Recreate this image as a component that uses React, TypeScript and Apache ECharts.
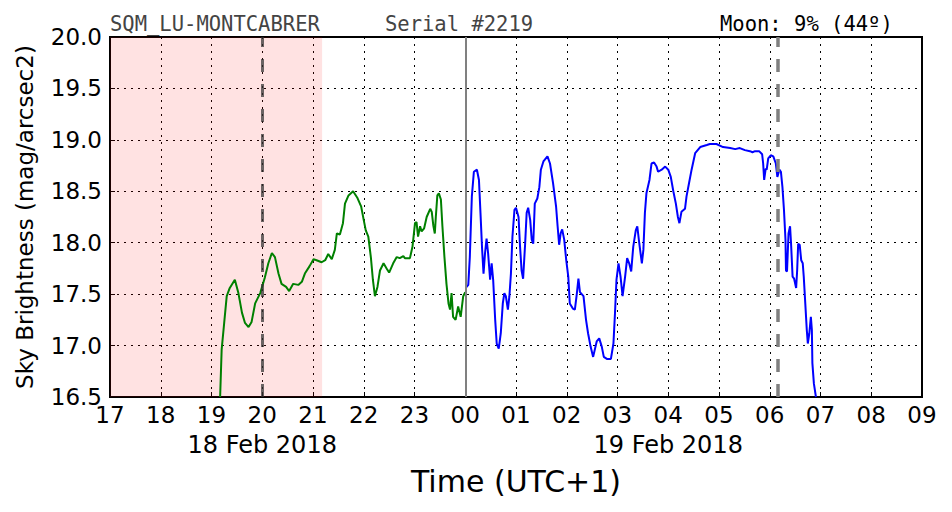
import React, { useEffect, useRef } from "react";
import * as echarts from "echarts";

const greenTimes = [19.17, 19.2, 19.25, 19.3, 19.36, 19.46, 19.53, 19.6, 19.66, 19.73, 19.79, 19.86, 19.96, 20.05, 20.12, 20.19, 20.25, 20.32, 20.38, 20.47, 20.53, 20.61, 20.71, 20.78, 20.84, 20.93, 21.01, 21.07, 21.17, 21.24, 21.3, 21.37, 21.43, 21.47, 21.53, 21.59, 21.63, 21.7, 21.79, 21.87, 21.95, 22.0, 22.04, 22.09, 22.14, 22.18, 22.22, 22.27, 22.32, 22.39, 22.45, 22.5, 22.58, 22.65, 22.71, 22.78, 22.81, 22.91, 22.96, 23.01, 23.04, 23.07, 23.11, 23.14, 23.19, 23.24, 23.31, 23.34, 23.37, 23.4, 23.42, 23.45, 23.48, 23.52, 23.55, 23.59, 23.63, 23.67, 23.7, 23.73, 23.76, 23.81, 23.86, 23.91, 23.96, 24.0];
const greenSky = [16.5, 16.96, 17.22, 17.48, 17.56, 17.64, 17.51, 17.32, 17.22, 17.18, 17.23, 17.41, 17.51, 17.66, 17.8, 17.9, 17.86, 17.7, 17.6, 17.57, 17.53, 17.6, 17.59, 17.62, 17.7, 17.77, 17.84, 17.83, 17.81, 17.83, 17.89, 17.84, 17.93, 18.09, 18.08, 18.19, 18.38, 18.46, 18.5, 18.44, 18.35, 18.22, 18.12, 18.06, 17.86, 17.64, 17.48, 17.57, 17.73, 17.8, 17.75, 17.71, 17.8, 17.86, 17.85, 17.87, 17.85, 17.85, 17.96, 18.19, 18.2, 18.06, 18.16, 18.11, 18.14, 18.25, 18.33, 18.3, 18.17, 18.09, 18.25, 18.46, 18.48, 18.42, 18.16, 17.86, 17.6, 17.41, 17.35, 17.51, 17.28, 17.25, 17.38, 17.28, 17.48, 17.52];

const blueTimes = [24.01, 24.06, 24.09, 24.13, 24.17, 24.23, 24.27, 24.3, 24.33, 24.36, 24.39, 24.42, 24.45, 24.49, 24.52, 24.55, 24.59, 24.62, 24.66, 24.7, 24.74, 24.77, 24.8, 24.84, 24.87, 24.9, 24.93, 24.97, 25.0, 25.05, 25.08, 25.11, 25.14, 25.18, 25.21, 25.24, 25.28, 25.31, 25.34, 25.37, 25.42, 25.46, 25.49, 25.54, 25.62, 25.67, 25.73, 25.79, 25.82, 25.85, 25.88, 25.91, 25.95, 25.99, 26.03, 26.06, 26.12, 26.16, 26.2, 26.23, 26.26, 26.33, 26.38, 26.42, 26.47, 26.52, 26.59, 26.64, 26.69, 26.73, 26.79, 26.87, 26.92, 26.95, 26.98, 27.02, 27.06, 27.1, 27.15, 27.19, 27.23, 27.27, 27.31, 27.36, 27.39, 27.43, 27.48, 27.51, 27.54, 27.57, 27.63, 27.67, 27.72, 27.77, 27.8, 27.87, 27.94, 28.0, 28.05, 28.1, 28.15, 28.19, 28.22, 28.26, 28.33, 28.36, 28.41, 28.46, 28.53, 28.63, 28.76, 28.82, 28.95, 29.08, 29.22, 29.32, 29.41, 29.51, 29.61, 29.66, 29.71, 29.79, 29.85, 29.87, 29.89, 29.92, 29.94, 29.97, 30.02, 30.07, 30.12, 30.15, 30.19, 30.22, 30.25, 30.28, 30.31, 30.32, 30.34, 30.37, 30.4, 30.42, 30.45, 30.48, 30.52, 30.54, 30.56, 30.59, 30.62, 30.65, 30.67, 30.7, 30.73, 30.75, 30.78, 30.81, 30.83, 30.84, 30.87, 30.91];
const blueSky = [17.56, 17.59, 17.86, 18.45, 18.69, 18.71, 18.61, 18.29, 17.96, 17.7, 17.9, 18.04, 17.9, 17.64, 17.8, 17.64, 17.25, 17.02, 16.97, 17.12, 17.41, 17.51, 17.48, 17.35, 17.48, 17.7, 18.06, 18.32, 18.34, 18.25, 17.96, 17.73, 17.65, 17.99, 18.29, 18.34, 18.22, 18.03, 17.99, 18.38, 18.43, 18.54, 18.71, 18.79, 18.84, 18.77, 18.58, 18.35, 18.16, 17.98, 18.09, 18.13, 18.03, 17.83, 17.67, 17.41, 17.36, 17.35, 17.51, 17.65, 17.52, 17.48, 17.25, 17.12, 16.99, 16.89, 17.04, 17.07, 16.99, 16.89, 16.87, 16.87, 17.02, 17.31, 17.64, 17.8, 17.67, 17.48, 17.67, 17.85, 17.8, 17.72, 17.96, 18.12, 18.16, 17.99, 17.8, 17.93, 18.29, 18.48, 18.61, 18.77, 18.78, 18.74, 18.69, 18.71, 18.74, 18.71, 18.64, 18.5, 18.38, 18.25, 18.19, 18.3, 18.33, 18.45, 18.58, 18.71, 18.87, 18.93, 18.95, 18.96, 18.96, 18.93, 18.92, 18.91, 18.92, 18.9, 18.89, 18.88, 18.89, 18.89, 18.86, 18.77, 18.61, 18.72, 18.71, 18.82, 18.85, 18.84, 18.77, 18.64, 18.71, 18.69, 18.54, 18.32, 18.03, 17.73, 17.72, 18.09, 18.16, 17.99, 17.67, 17.65, 17.56, 17.73, 17.99, 17.98, 17.83, 17.8, 17.67, 17.41, 17.15, 17.02, 17.12, 17.28, 17.15, 16.83, 16.63, 16.5];

const xRange = [17, 33];
const yRange = [16.5, 20.0];
const dateTicks = [20, 28];
const dateLabels = ["18 Feb 2018", "19 Feb 2018"];
const twilightSpan = [17, 21.18];
const sunsetLine = 20.0;
const midnightLine = 24.0;
const moonLine = 30.15;
const headerLeft = "SQM_LU-MONTCABRER";
const headerMid = "Serial #2219";
const headerRight = "Moon: 9% (44º)";

const pair = (t: number[], v: number[]) => t.map((x, i) => [x, v[i]]);

export default function App() {
  const ref = useRef<HTMLDivElement>(null);
  useEffect(() => {
    if (!ref.current) return;
    const chart = echarts.init(ref.current, undefined, { renderer: "svg" });
    const sans = "DejaVu Sans";
    const mono = "DejaVu Sans Mono";
    const dotted = { color: "#000", width: 1, type: [2, 5] as any };
    chart.setOption({
      animation: false,
      backgroundColor: "#fff",
      grid: { left: 110, right: 30, top: 37, bottom: 115, show: true, borderColor: "#000", borderWidth: 2, backgroundColor: "#fff" },
      xAxis: [
        {
          type: "value",
          min: xRange[0],
          max: xRange[1],
          interval: 1,
          axisLine: { show: true, lineStyle: { color: "#000", width: 2 } },
          axisTick: { show: true, inside: true, length: 5, lineStyle: { color: "#000" } },
          splitLine: { show: true, lineStyle: dotted },
          axisLabel: {
            color: "#000",
            fontFamily: sans,
            fontSize: 23,
            margin: 6,
            formatter: (v: number) => String(Math.round(v) % 24).padStart(2, "0"),
          },
          name: "Time (UTC+1)",
          nameLocation: "middle",
          nameGap: 69,
          nameTextStyle: { color: "#000", fontFamily: sans, fontSize: 30 },
        },
        {
          type: "value",
          min: xRange[0],
          max: xRange[1],
          position: "bottom",
          offset: 30,
          axisLine: { show: false },
          axisTick: { show: false },
          splitLine: { show: false },
          axisLabel: {
            show: true,
            customValues: dateTicks,
            color: "#000",
            fontFamily: sans,
            fontSize: 24,
            margin: 6,
            formatter: (v: number) => dateLabels[dateTicks.indexOf(Math.round(v))] ?? "",
          },
        },
      ],
      yAxis: {
        type: "value",
        min: yRange[0],
        max: yRange[1],
        interval: 0.5,
        axisLine: { show: true, lineStyle: { color: "#000", width: 2 } },
        axisTick: { show: true, inside: true, length: 5, lineStyle: { color: "#000" } },
        splitLine: { show: true, lineStyle: dotted },
        axisLabel: { color: "#000", fontFamily: sans, fontSize: 23, margin: 8, formatter: (v: number) => v.toFixed(1) },
        name: "Sky Brightness (mag/arcsec2)",
        nameLocation: "middle",
        nameGap: 74,
        nameTextStyle: { color: "#000", fontFamily: sans, fontSize: 23 },
      },
      graphic: [
        { type: "text", left: 110, top: 13.5, z: 100, style: { text: headerLeft, font: `20.5px '${mono}'`, fill: "#444" } },
        { type: "text", left: 385, top: 13.5, z: 100, style: { text: headerMid, font: `20.5px '${mono}'`, fill: "#444" } },
        { type: "text", left: 720, top: 13.5, z: 100, style: { text: headerRight, font: `20.5px '${mono}'`, fill: "#000" } },
      ],
      series: [
        {
          type: "line",
          data: pair(greenTimes, greenSky),
          showSymbol: false,
          symbol: "none",
          lineStyle: { color: "#008000", width: 2 },
          z: 3,
          markArea: {
            silent: true,
            itemStyle: { color: "rgba(255,0,0,0.115)" },
            data: [[{ xAxis: twilightSpan[0] }, { xAxis: twilightSpan[1] }]],
          },
          markLine: {
            silent: true,
            symbol: "none",
            label: { show: false },
            data: [
              { xAxis: sunsetLine, lineStyle: { color: "rgba(50,50,50,0.72)", width: 3, type: [13, 12] } },
              { xAxis: midnightLine, lineStyle: { color: "#808080", width: 2, type: "solid" } },
              { xAxis: moonLine, lineStyle: { color: "#808080", width: 3.5, type: [13, 12] } },
            ],
          },
        },
        {
          type: "line",
          data: pair(blueTimes, blueSky),
          showSymbol: false,
          symbol: "none",
          lineStyle: { color: "#0000ff", width: 2 },
          z: 3,
        },
      ],
    });
    return () => chart.dispose();
  }, []);
  return <div ref={ref} style={{ width: 952, height: 512, position: "absolute", left: 0, top: 0 }} />;
}
